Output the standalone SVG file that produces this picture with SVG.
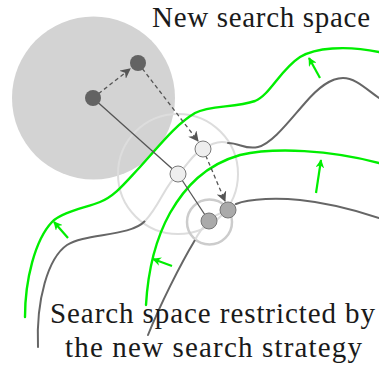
<svg xmlns="http://www.w3.org/2000/svg" width="379" height="365" viewBox="0 0 379 365">
  <style>
    .lbl { font-size: 29px; fill: #1a1a1a; }
    .curve { fill: none; stroke: #666; stroke-width: 2; stroke-linecap: round; }
    .curve-in { fill: none; stroke: #dcdcdc; stroke-width: 2; }
    .front { fill: none; stroke: #00ee00; stroke-width: 2.4; stroke-linecap: round; }
    .push { fill: none; stroke: #00ee00; stroke-width: 2.2; marker-end: url(#greenTip); }
    .link { fill: none; stroke: #555; stroke-width: 1.3; }
    .move { fill: none; stroke: #555; stroke-width: 1.3; stroke-dasharray: 4 3; marker-end: url(#grayTip); }
    .dark { fill: #636363; }
    .light { fill: #eeeeee; stroke: #7a7a7a; stroke-width: 1; }
    .mid { fill: #aaaaaa; stroke: #777; stroke-width: 1; }
  </style>
  <defs>
    <marker id="greenTip" viewBox="0 0 10 10" refX="9" refY="5" markerWidth="4" markerHeight="4" orient="auto" markerUnits="strokeWidth">
      <path d="M0,0 L10,5 L0,10 L3,5 z" fill="#00ee00"/>
    </marker>
    <marker id="grayTip" viewBox="0 0 10 10" refX="9" refY="5" markerWidth="8" markerHeight="8" orient="auto" markerUnits="strokeWidth">
      <path d="M0,0 L10,5 L0,10 L3,5 z" fill="#555"/>
    </marker>
  </defs>

  <!-- search regions -->
  <g id="regions">
    <circle id="new-space" cx="93.5" cy="98" r="81.5" fill="#d3d3d3"/>
    <circle id="neighbourhood" cx="178" cy="174" r="60" fill="none" stroke="#dddddd" stroke-width="2"/>
    <circle id="local-zone" cx="209.5" cy="222" r="22.5" fill="none" stroke="#cccccc" stroke-width="2.5"/>
  </g>

  <!-- constraint boundaries -->
  <g id="boundaries">
    <path class="curve" d="M38,347 C36,300 48,258 67,245 C85,233 130,237 145,221"/>
    <path class="curve-in" d="M145,221 C160,205 165,185 178,174 C188,165 193,153 203,149 C212,143 220,140 228,143"/>
    <path class="curve" d="M228,143 C240,143 245,150 258,147 C272,144 290,120 305,103 C318,88 330,78 343,78 C355,78 365,88 379,98"/>
    <path class="curve" d="M148,335 C160,305 180,265 195,240"/>
    <path class="curve-in" d="M195,240 C199,232 204,226 209,221 C215,215 222,212 228,210 C231,208 233,206 236,204"/>
    <path class="curve" d="M236,204 C250,198 280,198 300,200 C330,203 355,210 379,218"/>
  </g>

  <!-- widened boundaries -->
  <g id="fronts">
    <path class="front" d="M25,317 C25,280 35,240 52,222 C62,212 85,208 100,202 C115,196 125,183 140,167 C160,145 175,125 195,113 C210,105 235,108 255,101 C270,95 280,70 300,57 C315,48 345,45 379,52"/>
    <path class="front" d="M146,305 C148,270 155,240 170,213 C185,187 205,165 240,155 C275,147 330,150 379,163"/>
  </g>

  <!-- connectors -->
  <g id="connectors">
    <line class="push" x1="68" y1="238" x2="54" y2="222"/>
    <line class="push" x1="320" y1="78" x2="309" y2="58"/>
    <line class="push" x1="316" y1="193" x2="321" y2="160"/>
    <line class="push" x1="172" y1="266" x2="153" y2="259"/>
    <line class="link" x1="93" y1="98" x2="178" y2="174"/>
    <line class="link" x1="178" y1="174" x2="209" y2="221"/>
    <line class="move" x1="93" y1="98" x2="130" y2="69"/>
    <line class="move" x1="138" y1="63" x2="198" y2="141"/>
    <line class="move" x1="203" y1="149" x2="225" y2="201"/>
  </g>

  <!-- solutions -->
  <g id="node-a"><circle class="dark" cx="93" cy="98" r="8"/></g>
  <g id="node-b"><circle class="dark" cx="138" cy="63" r="8"/></g>
  <g id="node-c"><circle class="light" cx="178" cy="174" r="8"/></g>
  <g id="node-d"><circle class="light" cx="203" cy="149" r="8"/></g>
  <g id="node-e"><circle class="mid" cx="209" cy="221" r="8"/></g>
  <g id="node-f"><circle class="mid" cx="228" cy="210" r="8"/></g>

  <!-- labels -->
  <g id="labels" font-family="'Liberation Serif', 'Times New Roman', serif">
    <text class="lbl" x="152" y="27" textLength="218" lengthAdjust="spacing">New search space</text>
    <text class="lbl" x="50" y="323" textLength="325" lengthAdjust="spacing">Search space restricted by</text>
    <text class="lbl" x="65" y="357" textLength="297" lengthAdjust="spacing">the new search strategy</text>
  </g>
</svg>
